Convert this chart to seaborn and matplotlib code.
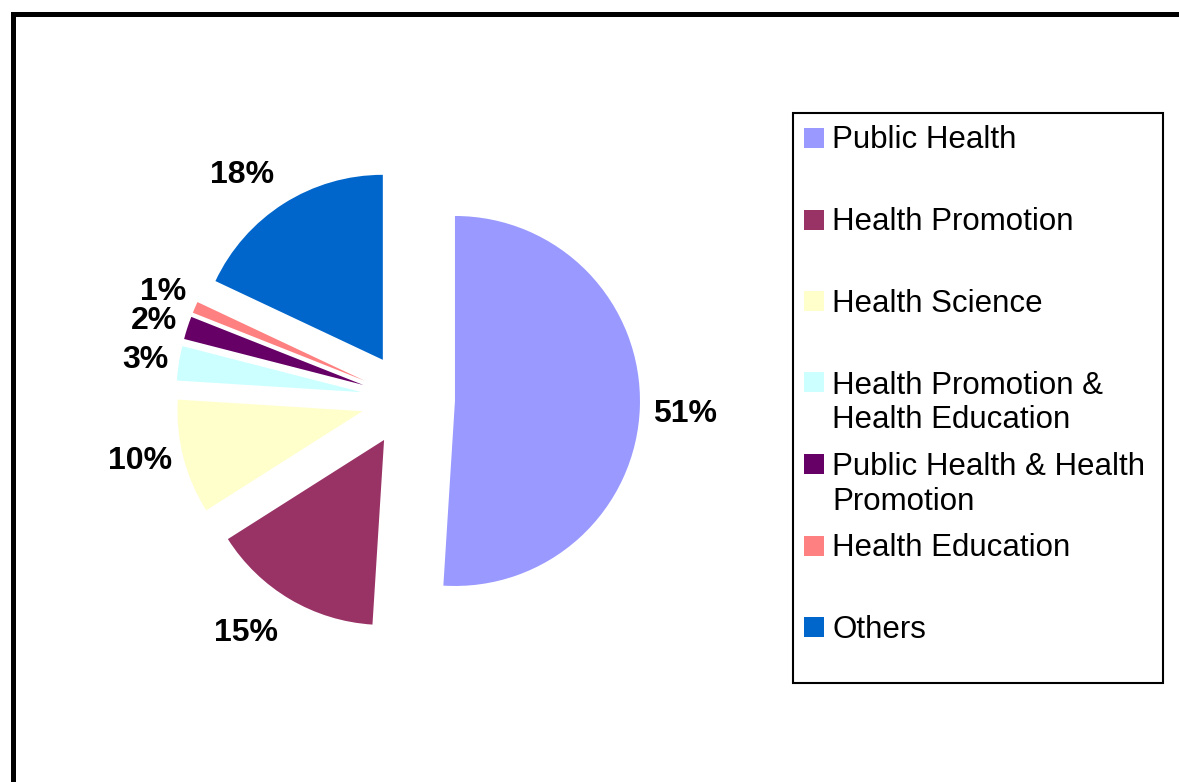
import numpy as np
import matplotlib
matplotlib.use('Agg')
import matplotlib.pyplot as plt
from matplotlib.patches import Rectangle
import seaborn as sns

# Data
categories = ['Public Health', 'Health Promotion', 'Health Science',
              'Health Promotion &\nHealth Education',
              'Public Health & Health\nPromotion',
              'Health Education', 'Others']
shares = [51, 15, 10, 3, 2, 1, 18]
colors = ['#9999FF', '#993366', '#FFFFCC', '#CCFFFF', '#660066', '#FF8080', '#0066CC']

# label placement tweaks (distance in radii, angle shift in degrees), Excel "best fit" style
label_dist = [1.243, 1.27, 1.23, 1.183, 1.188, 1.198, 1.267]
label_shift = [-0.8, -5.4, -2.4, -0.1, 0.5, -0.8, 4.4]

sns.set_theme(style='white')
plt.rcParams['font.family'] = ['Liberation Sans', 'DejaVu Sans']

W, H = 1179, 782
fig = plt.figure(figsize=(W / 100, H / 100), dpi=100)
fig.patch.set_facecolor('white')

# Pie axes, 1 data unit = 185 px, pie centre at (408, 399.5) px
scale = 185.0
cx, cy = 408.0, 399.5
ax = fig.add_axes([0, 0, 1, 1])
palette = sns.color_palette(colors)
wedges, _ = ax.pie(shares, colors=palette, startangle=90, counterclock=False,
                   radius=1, explode=[0.254] * len(shares),
                   wedgeprops=dict(linewidth=0))
ax.set_aspect('auto')
ax.set_xlim(-cx / scale, (W - cx) / scale)
ax.set_ylim(-(H - cy) / scale, cy / scale)
ax.axis('off')

# Percent labels
total = sum(shares)
nudge = 2.5 / scale  # bbox centre sits a bit above the digits
for w, v, d, s in zip(wedges, shares, label_dist, label_shift):
    ang = np.deg2rad((w.theta1 + w.theta2) / 2 + s)
    x0, y0 = w.center
    ax.text(x0 + d * w.r * np.cos(ang), y0 + d * w.r * np.sin(ang) - nudge,
            f'{v / total * 100:.0f}%', ha='center', va='center',
            fontsize=23, fontweight='bold', color='black')

# Legend box drawn like the Excel one
def fx(x):
    return x / W

def fy(y):
    return 1 - y / H

fig.add_artist(Rectangle((fx(793), fy(683)), (1163 - 793) / W, (683 - 113) / H,
                         transform=fig.transFigure, fill=False, lw=1.5, ec='black'))
first, pitch, line_px = 138.0, 81.5, 35.0
for i, (lab, col) in enumerate(zip(categories, palette)):
    yc = first + i * pitch
    fig.add_artist(Rectangle((fx(804), fy(yc + 10)), 20 / W, 20 / H,
                             transform=fig.transFigure, fc=col, lw=0))
    # baseline alignment uses the last line, so push multi-line labels down
    base = yc + 10.5 + lab.count('\n') * line_px
    fig.text(fx(832), fy(base), lab, fontsize=22.5, color='black',
             ha='left', va='baseline', linespacing=1.19)

# Thick outer frame (only top and left visible in the crop)
fig.add_artist(Rectangle((fx(12.5), -0.2), 1.5, fy(14.5) + 0.2,
                         transform=fig.transFigure, fill=False, lw=3.6,
                         ec='black', clip_on=False))

fig.savefig('out.png', dpi=100, facecolor='white')
